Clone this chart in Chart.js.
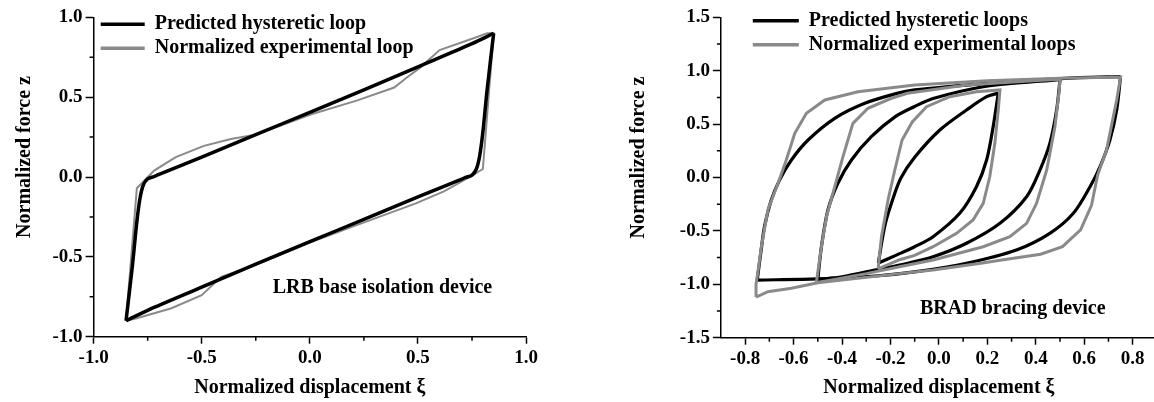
<!DOCTYPE html>
<html>
<head>
<meta charset="utf-8">
<title>Hysteretic loops</title>
<script src="https://cdn.jsdelivr.net/npm/chart.js@4.4.0/dist/chart.umd.min.js"></script>
<style>
    html, body { margin: 0; padding: 0; background: #fff; overflow: hidden; }
    #wrap { position: relative; width: 1154px; height: 402px; overflow: hidden; }
    .panel { position: absolute; top: 0; }
    #lrbPanel { left: 0; }
    #bradPanel { left: 590px; }
</style>
</head>
<body>
<div id="wrap">
    <div class="panel" id="lrbPanel"><canvas id="lrbChart" width="570" height="402"></canvas></div>
    <div class="panel" id="bradPanel"><canvas id="bradChart" width="570" height="402"></canvas></div>
</div>
<script>
// ---- LRB base isolation device (left panel) ----
// Predicted loop: loading branch then unloading branch
var lrbPredXi = [-0.85, -0.82, -0.80, -0.785, -0.77, -0.75, -0.72, -0.70, -0.50, -0.25, 0.00, 0.25, 0.50, 0.75, 0.85,
                 0.82, 0.80, 0.785, 0.77, 0.75, 0.72, 0.70, 0.50, 0.25, 0.00, -0.25, -0.50, -0.75, -0.85];
var lrbPredZ  = [-0.90, -0.55, -0.28, -0.13, -0.05, -0.012, 0.003, 0.015, 0.125, 0.265, 0.405, 0.545, 0.69, 0.835, 0.90,
                 0.55, 0.28, 0.13, 0.05, 0.012, -0.003, -0.015, -0.125, -0.265, -0.405, -0.545, -0.69, -0.835, -0.90];
// Experimental loop
var lrbTestXi = [-0.85, -0.80, -0.72, -0.62, -0.49, -0.36, -0.25, 0.00, 0.22, 0.39, 0.45, 0.51, 0.60, 0.77, 0.82, 0.85,
                 0.80, 0.74, 0.62, 0.49, 0.22, 0.00, -0.25, -0.41, -0.50, -0.64, -0.80, -0.85];
var lrbTestZ  = [-0.90, -0.07, 0.04, 0.125, 0.195, 0.24, 0.265, 0.39, 0.48, 0.56, 0.625, 0.685, 0.795, 0.875, 0.90, 0.90,
                 0.05, 0.0, -0.09, -0.165, -0.30, -0.41, -0.55, -0.625, -0.74, -0.822, -0.885, -0.90];
var lrbTicks = [-1.0, -0.5, 0.0, 0.5, 1.0];
var lrbMinor = [-0.75, -0.25, 0.25, 0.75];

// ---- BRAD bracing device (right panel) ----
// Predicted loops, amplitudes 0.75 / 0.5 / 0.25
var bradPredXiA = [-0.75, -0.735, -0.72, -0.692, -0.657, -0.609, -0.54, -0.43, -0.306, -0.169, -0.10, 0.03, 0.307, 0.58, 0.75,
                   0.734, 0.706, 0.665, 0.624, 0.555, 0.458, 0.32, 0.114, -0.093, -0.25, -0.50, -0.75];
var bradPredZA  = [-0.96, -0.70, -0.46, -0.21, -0.02, 0.164, 0.351, 0.554, 0.695, 0.79, 0.82, 0.85, 0.90, 0.935, 0.945,
                   0.632, 0.351, 0.10, -0.086, -0.335, -0.523, -0.679, -0.803, -0.882, -0.92, -0.95, -0.96];
var bradPredXiB = [-0.50, -0.485, -0.458, -0.417, -0.361, -0.279, -0.18, -0.10, -0.024, 0.183, 0.389, 0.50,
                   0.486, 0.458, 0.417, 0.362, 0.252, 0.114, -0.024, -0.162, -0.25, -0.40, -0.50];
var bradPredZB  = [-0.955, -0.648, -0.304, -0.054, 0.164, 0.382, 0.57, 0.665, 0.74, 0.85, 0.897, 0.915,
                   0.632, 0.32, 0.07, -0.18, -0.429, -0.616, -0.742, -0.82, -0.86, -0.93, -0.955];
var bradPredXiC = [-0.25, -0.224, -0.196, -0.158, -0.10, 0.004, 0.114, 0.197, 0.245,
                   0.224, 0.197, 0.155, 0.086, -0.024, -0.10, -0.169, -0.25];
var bradPredZC  = [-0.80, -0.46, -0.242, -0.01, 0.19, 0.445, 0.632, 0.757, 0.79,
                   0.476, 0.164, -0.086, -0.335, -0.554, -0.648, -0.72, -0.80];
// Experimental loops
var bradTestXiA = [-0.755, -0.755, -0.745, -0.733, -0.706, -0.664, -0.63, -0.595, -0.547, -0.471, -0.334, -0.10, 0.20, 0.50, 0.75,
                   0.734, 0.692, 0.655, 0.63, 0.585, 0.51, 0.42, 0.252, 0.18, -0.024, -0.162, -0.50, -0.609, -0.706, -0.755];
var bradTestZA  = [-1.12, -1.00, -0.85, -0.648, -0.304, -0.054, 0.164, 0.414, 0.601, 0.726, 0.803, 0.866, 0.905, 0.93, 0.94,
                   0.726, 0.257, 0.02, -0.26, -0.49, -0.648, -0.718, -0.775, -0.80, -0.866, -0.90, -0.985, -1.037, -1.069, -1.12];
var bradTestXiB = [-0.506, -0.485, -0.464, -0.43, -0.396, -0.355, -0.293, -0.196, -0.13, 0.114, 0.389, 0.50,
                   0.497, 0.479, 0.445, 0.403, 0.362, 0.293, 0.183, -0.024, -0.162, -0.30, -0.506];
var bradTestZB  = [-0.985, -0.648, -0.367, -0.086, 0.195, 0.507, 0.648, 0.742, 0.788, 0.866, 0.906, 0.92,
                   0.82, 0.476, 0.07, -0.242, -0.429, -0.554, -0.648, -0.772, -0.835, -0.90, -0.985];
var bradTestXiC = [-0.251, -0.237, -0.21, -0.182, -0.152, -0.11, -0.051, 0.045, 0.155, 0.252,
                   0.245, 0.231, 0.21, 0.183, 0.141, 0.073, -0.024, -0.10, -0.162, -0.251];
var bradTestZC  = [-0.855, -0.554, -0.21, 0.07, 0.351, 0.52, 0.663, 0.757, 0.803, 0.82,
                   0.632, 0.32, 0.007, -0.242, -0.398, -0.523, -0.648, -0.73, -0.77, -0.855];
var bradTicksX = [-0.8, -0.6, -0.4, -0.2, 0.0, 0.2, 0.4, 0.6, 0.8];
var bradTicksY = [-1.5, -1.0, -0.5, 0.0, 0.5, 1.0, 1.5];
var bradMinorX = [-0.7, -0.5, -0.3, -0.1, 0.1, 0.3, 0.5, 0.7];
var bradMinorY = [-1.25, -0.75, -0.25, 0.25, 0.75, 1.25];

var BLACK = '#000000';
var GREY = '#8a8a8a';
var FONT = '"Liberation Serif", "Times New Roman", serif';

Chart.defaults.font.family = FONT;
Chart.defaults.color = '#000';

function toPoints(xs, zs) {
    return xs.map(function(v, i) { return {x: v, y: zs[i]}; });
}

// Experimental loop: one polyline, as measured
function testLoop(label, xs, zs, width, inLegend) {
    return {
        label: label, data: toPoints(xs, zs), showLine: true,
        borderColor: GREY, backgroundColor: GREY, borderWidth: width,
        pointRadius: 0, tension: 0, fill: false, inLegend: inLegend, rank: 1
    };
}

// Predicted loop: split at the tip so each smooth branch keeps a sharp corner
function predLoop(label, xs, zs, width, inLegend) {
    var tip = xs.indexOf(Math.max.apply(null, xs));
    var pts = toPoints(xs, zs);
    var base = {
        label: label, showLine: true, borderColor: BLACK, backgroundColor: BLACK,
        borderWidth: width, pointRadius: 0, tension: 0.3, fill: false, rank: 0
    };
    return [
        Object.assign({}, base, {data: pts.slice(0, tip + 1), inLegend: inLegend}),
        Object.assign({}, base, {data: pts.slice(tip), inLegend: false})
    ];
}

// Short minor ticks between the labelled ones
var minorTicks = {
    id: 'minorTicks',
    afterDraw: function(chart, args, opts) {
        var ctx = chart.ctx, x = chart.scales.x, y = chart.scales.y;
        ctx.save();
        ctx.strokeStyle = '#000';
        ctx.lineWidth = 1.5;
        ctx.beginPath();
        opts.x.forEach(function(v) {
            var px = x.getPixelForValue(v);
            ctx.moveTo(px, x.top);
            ctx.lineTo(px, x.top + 4);
        });
        opts.y.forEach(function(v) {
            var py = y.getPixelForValue(v);
            ctx.moveTo(y.right - 4, py);
            ctx.lineTo(y.right, py);
        });
        ctx.stroke();
        ctx.restore();
    }
};

// Device name written inside the plot
var deviceLabel = {
    id: 'deviceLabel',
    afterDatasetsDraw: function(chart, args, opts) {
        var ctx = chart.ctx;
        ctx.save();
        ctx.font = 'bold 20px ' + FONT;
        ctx.fillStyle = '#000';
        ctx.textAlign = 'center';
        ctx.textBaseline = 'middle';
        ctx.fillText(opts.text, chart.scales.x.getPixelForValue(opts.at[0]), chart.scales.y.getPixelForValue(opts.at[1]));
        ctx.restore();
    }
};

// Nudges the in-plot legend to its place
var legendShift = {
    id: 'legendShift',
    afterLayout: function(chart, args, opts) {
        var lg = chart.legend;
        if (!lg) return;
        lg.left += opts.dx; lg.right += opts.dx;
        lg.top += opts.dy; lg.bottom += opts.dy;
    }
};

function makeChart(id, datasets, cfg) {
    var tickFont = {size: 19, weight: 'bold'};
    var titleFont = {size: 20, weight: 'bold'};
    return new Chart(document.getElementById(id), {
        type: 'scatter',
        data: {datasets: datasets},
        plugins: [minorTicks, deviceLabel, legendShift],
        options: {
            responsive: false,
            animation: false,
            events: [],
            layout: {padding: {left: 0, top: 17.3, right: cfg.right, bottom: 0}},
            scales: {
                x: {
                    type: 'linear', position: 'bottom', min: cfg.xMin, max: cfg.xMax,
                    afterBuildTicks: function(s) { s.ticks = cfg.xTicks.map(function(v) { return {value: v}; }); },
                    afterFit: function(s) { s.height = cfg.xHeight; },
                    ticks: {callback: function(v) { return v.toFixed(1); }, font: tickFont, color: '#000', padding: 3, maxRotation: 0, autoSkip: false},
                    grid: {drawOnChartArea: false, tickLength: 7, tickWidth: 1.5, tickColor: '#000'},
                    border: {color: '#000', width: 1.5},
                    title: {display: true, text: 'Normalized displacement ξ', color: '#000', font: titleFont, padding: {top: 0, bottom: 2}}
                },
                y: {
                    type: 'linear', position: 'left', min: cfg.yMin, max: cfg.yMax,
                    afterBuildTicks: function(s) { s.ticks = cfg.yTicks.map(function(v) { return {value: v}; }); },
                    afterFit: function(s) { s.width = cfg.yWidth; },
                    ticks: {callback: function(v) { return v.toFixed(1); }, font: tickFont, color: '#000', padding: 3, autoSkip: false},
                    grid: {drawOnChartArea: false, tickLength: 8, tickWidth: 1.5, tickColor: '#000'},
                    border: {color: '#000', width: 1.5},
                    title: {display: true, text: '        Normalized force z', color: '#000', font: titleFont, padding: {top: cfg.yTitlePad, bottom: 0}}
                }
            },
            plugins: {
                tooltip: {enabled: false},
                legend: {
                    position: 'chartArea',
                    align: 'start',
                    labels: {
                        usePointStyle: true,
                        pointStyle: 'line',
                        pointStyleWidth: cfg.legendLine,
                        padding: 4,
                        color: '#000',
                        font: {size: 20, weight: 'bold'},
                        filter: function(item, data) { return data.datasets[item.datasetIndex].inLegend; },
                        sort: function(a, b, data) { return data.datasets[a.datasetIndex].rank - data.datasets[b.datasetIndex].rank; },
                        generateLabels: function(chart) {
                            return Chart.defaults.plugins.legend.labels.generateLabels(chart).map(function(l) {
                                l.lineWidth = 3.5;
                                return l;
                            });
                        }
                    }
                },
                legendShift: {dx: cfg.legendDx, dy: cfg.legendDy},
                minorTicks: {x: cfg.minorX, y: cfg.minorY},
                deviceLabel: {text: cfg.device, at: cfg.deviceAt}
            }
        }
    });
}

// Left: predicted drawn over the experimental loop
makeChart('lrbChart', [].concat(
    predLoop('Predicted hysteretic loop', lrbPredXi, lrbPredZ, 3.5, true),
    [testLoop('Normalized experimental loop', lrbTestXi, lrbTestZ, 2, true)]
), {
    xMin: -1, xMax: 1, yMin: -1, yMax: 1,
    xTicks: lrbTicks, yTicks: lrbTicks, minorX: lrbMinor, minorY: lrbMinor,
    right: 43.9, xHeight: 65.3, yWidth: 93.6, yTitlePad: 13,
    legendLine: 44, legendDx: 3.1, legendDy: 10.2,
    device: 'LRB base isolation device', deviceAt: [0.336, -0.697]
});

// Right: experimental loops drawn over the predicted ones
makeChart('bradChart', [].concat(
    [testLoop('Normalized experimental loops', bradTestXiA, bradTestZA, 3, true),
     testLoop('Normalized experimental loops', bradTestXiB, bradTestZB, 3, false),
     testLoop('Normalized experimental loops', bradTestXiC, bradTestZC, 3, false)],
    predLoop('Predicted hysteretic loops', bradPredXiA, bradPredZA, 3.2, true),
    predLoop('Predicted hysteretic loops', bradPredXiB, bradPredZB, 3.2, false),
    predLoop('Predicted hysteretic loops', bradPredXiC, bradPredZC, 3.2, false)
), {
    xMin: -0.9, xMax: 0.9, yMin: -1.5, yMax: 1.5,
    xTicks: bradTicksX, yTicks: bradTicksY, minorX: bradMinorX, minorY: bradMinorY,
    right: 3.1, xHeight: 64.3, yWidth: 130.9, yTitlePad: 37,
    legendLine: 46, legendDx: 27.9, legendDy: 6.8,
    device: 'BRAD bracing device', deviceAt: [0.305, -1.225]
});
</script>
</body>
</html>
